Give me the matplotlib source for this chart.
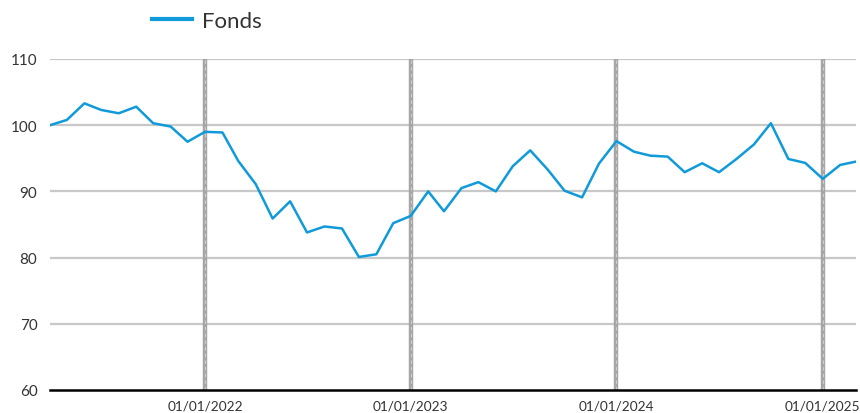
import numpy as np
import pandas as pd
import matplotlib
matplotlib.use("Agg")
import matplotlib.pyplot as plt
import matplotlib.dates as mdates

plt.rcParams['font.family'] = ['Lato', 'DejaVu Sans']

# monthly fund values, Apr 2021 - Mar 2025
dates = pd.date_range("2021-04-01", "2025-03-01", freq="MS")
fonds = [100.0, 100.8, 103.3, 102.3, 101.8, 102.8, 100.3, 99.8, 97.5, 99.0,
         98.9, 94.6, 91.1, 85.9, 88.5, 83.8, 84.7, 84.4, 80.1, 80.5,
         85.2, 86.3, 90.0, 87.0, 90.5, 91.4, 90.0, 93.8, 96.2, 93.3,
         90.1, 89.1, 94.2, 97.6, 96.0, 95.4, 95.25, 92.9, 94.25, 92.9,
         94.9, 97.1, 100.3, 94.9, 94.3, 91.9, 94.0, 94.5]

year_marks = pd.to_datetime(["2022-01-01", "2023-01-01", "2024-01-01", "2025-01-01"])
year_labels = ["01/01/2022", "01/01/2023", "01/01/2024", "01/01/2025"]
y_ticks = [60, 70, 80, 90, 100, 110]

fig = plt.figure(figsize=(8.6, 4.14), dpi=100)
ax = fig.add_axes([50/860, 1-391/414, 806/860, 331/414])

for yv in y_ticks[1:]:
    ax.axhline(yv, color='#c8c8c8', lw=1.6, zorder=1)

for d in year_marks:
    ax.axvline(d, color='#a6a6a6', lw=3.2, zorder=2)
    ax.axvline(d, color='#cfcfcf', lw=0.8, ls=(0, (3, 3)), zorder=2)

ax.plot(dates, fonds, color='#109ad9', lw=1.8, label='Fonds', zorder=3)

ax.set_xlim(dates[0], dates[-1])
ax.set_ylim(60, 110)
ax.set_yticks(y_ticks)
ax.set_xticks(year_marks)
ax.set_xticklabels(year_labels)
ax.tick_params(axis='y', length=0, pad=9, labelsize=11, labelcolor='#333333')
ax.tick_params(axis='x', length=0, pad=7, labelsize=9.8, labelcolor='#333333')

for s in ['top', 'right', 'left']:
    ax.spines[s].set_visible(False)
ax.spines['bottom'].set_color('black')
ax.spines['bottom'].set_linewidth(1.8)
ax.spines['bottom'].set_zorder(4)

leg = fig.legend(loc='center left', bbox_to_anchor=(152/860, 1-22/414), frameon=False,
                 fontsize=16, handlelength=1.8, handletextpad=0.45, borderpad=0,
                 borderaxespad=0, labelcolor='#333333')
for line in leg.get_lines():
    line.set_linewidth(3)

fig.savefig("out.png", dpi=100)
